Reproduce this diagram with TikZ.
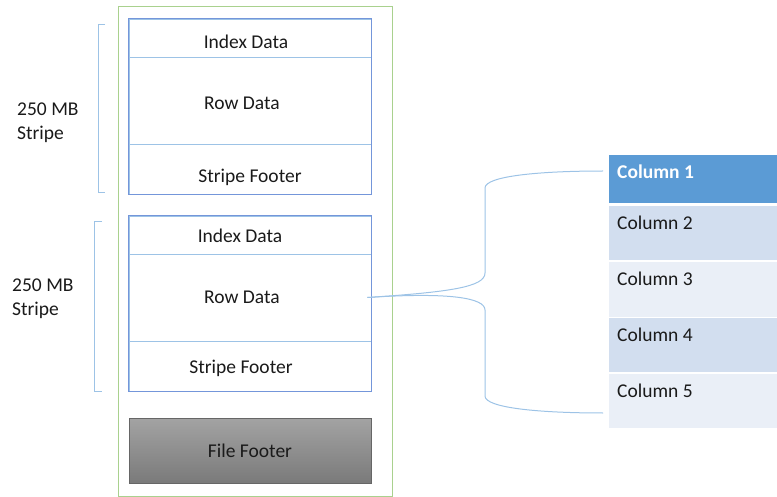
\documentclass[tikz,border=0pt]{standalone}
\usepackage{fontspec}
\setmainfont{Carlito}
\definecolor{grn}{HTML}{A9D18E}
\definecolor{stb}{HTML}{7496DA}
\definecolor{lb}{HTML}{9DC3E6}
\definecolor{c1}{HTML}{5B9BD5}
\definecolor{c2}{HTML}{D2DEEF}
\definecolor{c3}{HTML}{EAEFF7}
\definecolor{ftop}{HTML}{A3A3A3}
\definecolor{fbot}{HTML}{7A7A7A}
\definecolor{txtc}{HTML}{1A1A1A}
\begin{document}
\begin{tikzpicture}[x=1pt,y=-1pt,
  every node/.style={font=\fontsize{19.5}{24}\selectfont, text=txtc},
  sec/.style={draw=lb, line width=0.7pt, minimum width=242pt, inner sep=0pt},
  stripebox/.style={draw=stb, line width=1pt},
  brk/.style={draw=lb, line width=1pt},
  colbox/.style={minimum width=168pt, inner sep=0pt, anchor=north west},
  coltxt/.style={anchor=west, inner sep=0pt},
  conn/.style={draw=lb, line width=1pt}
]
\useasboundingbox (0,0) rectangle (777,497);
% outer file box
\node[draw=grn, line width=1pt, minimum width=274pt, minimum height=489pt, inner sep=0pt] (file) at (255,251.5) {};
% stripe 1
\node[sec, minimum height=38pt, label={[xshift=-4pt,yshift=-4pt]center:Index Data}] (idx1) at (250,38) {};
\node[sec, minimum height=87pt, label={[xshift=-8pt,yshift=-2.5pt]center:Row Data}] (row1) at (250,100.5) {};
\node[sec, minimum height=50pt, label={[xshift=0pt,yshift=-8pt]center:Stripe Footer}] (foot1) at (250,169) {};
\draw[stripebox] (idx1.north west) rectangle (foot1.south east);
% stripe 2
\node[sec, minimum height=38pt, label={[xshift=-10pt,yshift=-1pt]center:Index Data}] (idx2) at (250,235) {};
\node[sec, minimum height=87pt, label={[xshift=-8pt,yshift=0pt]center:Row Data}] (row2) at (250,297.5) {};
\node[sec, minimum height=50pt, label={[xshift=-9pt,yshift=-2pt]center:Stripe Footer}] (foot2) at (250,366) {};
\draw[stripebox] (idx2.north west) rectangle (foot2.south east);
% file footer
\node[draw=gray!80!black, line width=0.7pt, minimum width=242pt, minimum height=65pt, inner sep=0pt,
  top color=ftop, bottom color=fbot] (ff) at (250,450.5) {File Footer};
% brackets
\draw[brk] (105,25) -- (98,25) -- (98,193) -- (105,193);
\draw[brk] (102,222) -- (94,222) -- (94,391) -- (102,391);
\node[align=left, anchor=west, inner sep=0pt] (lab1) at (17,123) {250 MB\\Stripe};
\node[align=left, anchor=west, inner sep=0pt] (lab2) at (12,299) {250 MB\\Stripe};
% columns
\node[colbox, fill=c1, minimum height=48pt] (col1) at (609,155) {};
\node[colbox, fill=c2, minimum height=54pt] (col2) at (609,206) {};
\node[colbox, fill=c3, minimum height=55pt] (col3) at (609,262) {};
\node[colbox, fill=c2, minimum height=54pt] (col4) at (609,318) {};
\node[colbox, fill=c3, minimum height=54pt] (col5) at (609,374) {};
\node[coltxt, text=white, font=\fontsize{19.5}{24}\bfseries] (t1) at (617,171.5) {Column 1};
\node[coltxt] (t2) at (617,222.5) {Column 2};
\node[coltxt] (t3) at (617,278.5) {Column 3};
\node[coltxt] (t4) at (617,334.5) {Column 4};
\node[coltxt] (t5) at (617,390.5) {Column 5};
% brace connector
\coordinate (ctop) at (603,171);
\coordinate (cbot) at (603,413);
\draw[conn] ([xshift=-4pt]row2.east) .. controls (450,292) and (485,287) .. (485,273)
  -- (485,188) .. controls (485,176) and (540,171) .. (ctop);
\draw[conn] ([xshift=-4pt]row2.east) .. controls (450,292) and (485,298) .. (485,310)
  -- (485,396) .. controls (485,408) and (540,413) .. (cbot);
\end{tikzpicture}
\end{document}
